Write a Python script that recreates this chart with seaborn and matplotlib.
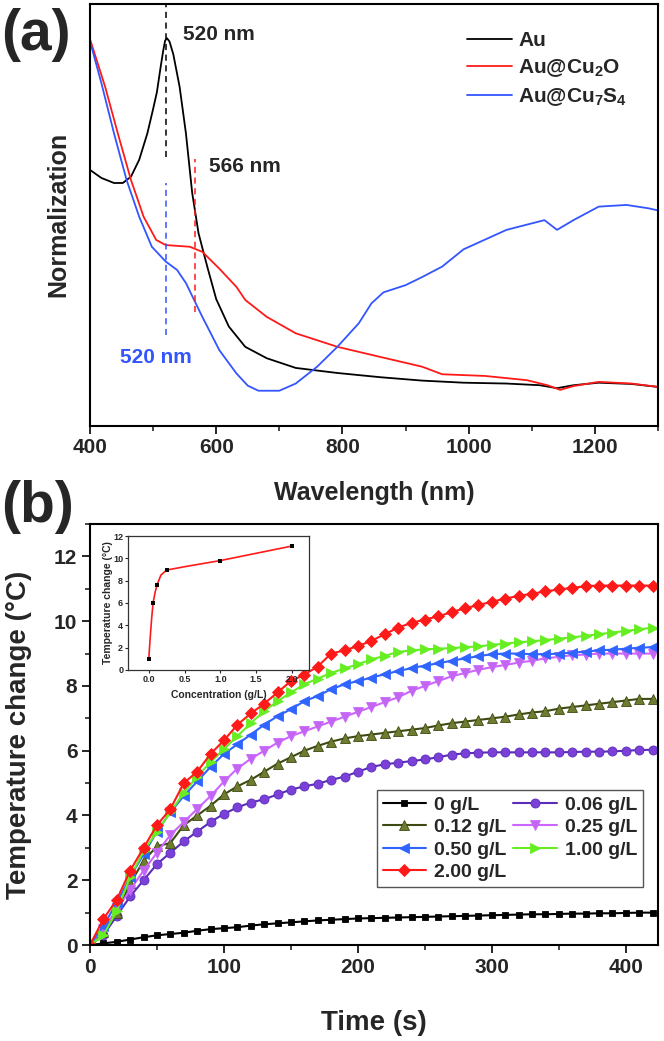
#!/usr/bin/env python3
import matplotlib

matplotlib.use("Agg")
import matplotlib.pyplot as plt
import numpy as np
import seaborn as sns
from matplotlib.ticker import FormatStrFormatter, MultipleLocator

# --------------------------------------------
# DATA
# --------------------------------------------
# (a) normalised absorption spectra, y in fraction of the axis height
AU_WL = [400, 418, 438, 452, 465, 478, 491, 500, 506, 512, 516, 519, 522, 526, 532,
         542, 552, 562, 572, 580, 586, 600, 620, 646, 680, 726, 792, 860, 926,
         992, 1060, 1113, 1140, 1166, 1206, 1258, 1300]
AU_ABS = [0.606, 0.587, 0.575, 0.575, 0.590, 0.630, 0.693, 0.750, 0.790, 0.850,
          0.888, 0.912, 0.918, 0.910, 0.880, 0.803, 0.693, 0.551, 0.456, 0.410,
          0.376, 0.300, 0.235, 0.187, 0.160, 0.137, 0.125, 0.115, 0.107, 0.102,
          0.100, 0.096, 0.089, 0.096, 0.102, 0.099, 0.092]

CU2O_WL = [400, 424, 444, 465, 485, 505, 520, 558, 578, 605, 632, 646, 680, 726,
           792, 860, 926, 958, 1026, 1092, 1125, 1145, 1166, 1206, 1258, 1300]
CU2O_ABS = [0.916, 0.803, 0.693, 0.582, 0.495, 0.440, 0.428, 0.424, 0.412, 0.372,
            0.329, 0.298, 0.258, 0.219, 0.187, 0.163, 0.140, 0.122, 0.118, 0.108,
            0.096, 0.085, 0.094, 0.104, 0.100, 0.092]

CU7S4_WL = [400, 418, 438, 458, 478, 498, 520, 538, 552, 565, 578, 605, 632, 650,
            667, 700, 726, 760, 792, 826, 846, 865, 900, 926, 958, 992, 1060,
            1120, 1140, 1166, 1206, 1250, 1285, 1300]
CU7S4_ABS = [0.911, 0.812, 0.693, 0.582, 0.495, 0.424, 0.389, 0.369, 0.338, 0.298,
             0.258, 0.179, 0.124, 0.095, 0.083, 0.083, 0.100, 0.140, 0.187, 0.243,
             0.290, 0.316, 0.333, 0.352, 0.377, 0.418, 0.464, 0.487, 0.464, 0.487,
             0.519, 0.523, 0.515, 0.510]

SPECTRA_LABELS = ["Au", r"Au@Cu$_{\mathrm{2}}$O", r"Au@Cu$_{\mathrm{7}}$S$_{\mathrm{4}}$"]

# (b) temperature change vs time, one value every 10 s
TIME = list(range(0, 430, 10))
T_0 = [0, 0.05, 0.10, 0.17, 0.24, 0.30, 0.34, 0.38, 0.44, 0.49, 0.52, 0.55, 0.60,
       0.64, 0.67, 0.70, 0.73, 0.76, 0.78, 0.80, 0.82, 0.83, 0.84, 0.85, 0.86,
       0.87, 0.88, 0.89, 0.90, 0.91, 0.92, 0.93, 0.94, 0.95, 0.95, 0.96, 0.97,
       0.97, 0.98, 0.98, 0.99, 1.00, 1.00]
T_006 = [0, 0.30, 0.90, 1.50, 2.00, 2.50, 2.85, 3.20, 3.50, 3.80, 4.05, 4.25, 4.40,
         4.50, 4.65, 4.80, 4.90, 4.98, 5.10, 5.20, 5.35, 5.50, 5.58, 5.63, 5.68,
         5.73, 5.80, 5.88, 5.92, 5.94, 5.95, 5.95, 5.95, 5.95, 5.95, 5.95, 5.96,
         5.97, 5.97, 5.98, 6.00, 6.02, 6.03]
T_012 = [0, 0.40, 1.00, 1.90, 2.60, 3.05, 3.15, 3.70, 4.00, 4.30, 4.65, 4.90, 5.10,
         5.35, 5.60, 5.80, 6.00, 6.15, 6.28, 6.38, 6.45, 6.50, 6.55, 6.60, 6.65,
         6.70, 6.78, 6.85, 6.90, 6.95, 7.00, 7.05, 7.12, 7.18, 7.22, 7.30, 7.35,
         7.40, 7.45, 7.50, 7.55, 7.60, 7.60]
T_025 = [0, 0.50, 1.10, 1.70, 2.30, 2.85, 3.40, 3.80, 4.20, 4.60, 5.05, 5.45, 5.75,
         6.00, 6.25, 6.45, 6.60, 6.75, 6.90, 7.05, 7.20, 7.35, 7.50, 7.65, 7.85,
         8.00, 8.15, 8.30, 8.40, 8.50, 8.58, 8.65, 8.72, 8.78, 8.85, 8.90, 8.95,
         8.97, 9.00, 9.00, 9.00, 9.00, 9.00]
T_050 = [0, 0.60, 1.30, 2.10, 2.80, 3.50, 4.10, 4.60, 5.05, 5.50, 5.90, 6.20, 6.50,
         6.80, 7.07, 7.28, 7.53, 7.69, 7.90, 8.05, 8.15, 8.26, 8.36, 8.46, 8.55,
         8.63, 8.70, 8.78, 8.85, 8.92, 8.98, 9.00, 9.00, 8.98, 8.98, 9.00, 9.03,
         9.06, 9.10, 9.12, 9.15, 9.18, 9.20]
T_100 = [0, 0.30, 1.05, 2.10, 2.90, 3.50, 4.10, 4.70, 5.20, 5.65, 6.05, 6.45, 6.85,
         7.22, 7.53, 7.80, 8.05, 8.23, 8.40, 8.54, 8.67, 8.82, 8.93, 9.05, 9.10,
         9.13, 9.15, 9.17, 9.20, 9.22, 9.27, 9.31, 9.35, 9.38, 9.42, 9.46, 9.50,
         9.55, 9.60, 9.65, 9.70, 9.75, 9.80]
T_200 = [0, 0.80, 1.40, 2.30, 3.00, 3.70, 4.20, 5.00, 5.35, 5.90, 6.32, 6.80, 7.15,
         7.45, 7.80, 8.15, 8.35, 8.60, 9.00, 9.10, 9.23, 9.39, 9.60, 9.80, 9.95,
         10.05, 10.15, 10.28, 10.40, 10.50, 10.60, 10.70, 10.78, 10.85, 10.92,
         10.98, 11.03, 11.08, 11.10, 11.10, 11.10, 11.10, 11.10]

CONC_LABELS = ["0 g/L", "0.06 g/L", "0.12 g/L", "0.25 g/L", "0.50 g/L", "1.00 g/L", "2.00 g/L"]

# inset: final temperature change vs concentration
INSET_CONC = [0.0, 0.06, 0.12, 0.25, 1.0, 2.0]
INSET_TEMP = [1.0, 6.0, 7.6, 9.0, 9.8, 11.1]
# smooth red fit curve as drawn in the inset
FIT_CONC = [0.0, 0.02, 0.04, 0.06, 0.09, 0.12, 0.17, 0.25, 0.5, 1.0, 2.0]
FIT_TEMP = [1.0, 2.9, 4.6, 6.0, 7.0, 7.7, 8.5, 8.95, 9.25, 9.8, 11.1]

# --------------------------------------------
# STYLE
# --------------------------------------------
sns.set_theme(style="ticks")
plt.rcParams["font.family"] = ["Liberation Sans", "DejaVu Sans"]
plt.rcParams["font.weight"] = "bold"
plt.rcParams["axes.labelweight"] = "bold"
plt.rcParams["mathtext.fontset"] = "custom"
plt.rcParams["mathtext.rm"] = "Liberation Sans:bold"
plt.rcParams["mathtext.it"] = "Liberation Sans:bold"
plt.rcParams["mathtext.bf"] = "Liberation Sans:bold"

DASH = (0, (4, 3))


def style_axes(ax, lw=1.5):
    for sp in ax.spines.values():
        sp.set_visible(True)
        sp.set_linewidth(lw)
        sp.set_color("black")
    ax.tick_params(which="major", direction="out", length=6, width=1.4,
                   labelsize=15, top=False, right=False, pad=3)
    ax.tick_params(which="minor", direction="out", length=3.5, width=1.2,
                   top=False, right=False)
    for lab in ax.get_xticklabels() + ax.get_yticklabels():
        lab.set_fontweight("bold")


fig = plt.figure(figsize=(6.64, 10.41), dpi=100)

# --------------------------------------------
# (a) SPECTRA
# --------------------------------------------
ax_a = fig.add_axes([0.1355, 0.591, 0.8555, 0.4056])
spectra = [
    (AU_WL, AU_ABS, "black"),
    (CU2O_WL, CU2O_ABS, "#ff1a1a"),
    (CU7S4_WL, CU7S4_ABS, "#3355ff"),
]
for (wl, ab, col), lab in zip(spectra, SPECTRA_LABELS):
    sns.lineplot(x=wl, y=ab, ax=ax_a, color=col, linewidth=1.3, label=lab,
                 estimator=None)

ax_a.plot([520, 520], [0.637, 1.0], color="black", lw=1.1, ls=DASH)
ax_a.plot([520, 520], [0.215, 0.575], color="#3355ff", lw=1.1, ls=DASH)
ax_a.plot([566, 566], [0.270, 0.632], color="#ff1a1a", lw=1.1, ls=DASH)

ax_a.text(548, 0.926, "520 nm", fontsize=15, fontweight="bold", va="center", ha="left")
ax_a.text(588, 0.615, "566 nm", fontsize=15, fontweight="bold", va="center", ha="left")
ax_a.text(448, 0.162, "520 nm", fontsize=15, fontweight="bold", va="center",
          ha="left", color="#3355ff")

ax_a.set_xlim(400, 1300)
ax_a.set_ylim(0, 1)
ax_a.xaxis.set_major_locator(MultipleLocator(200))
ax_a.xaxis.set_minor_locator(MultipleLocator(100))
ax_a.set_yticks([])
style_axes(ax_a)
ax_a.set_xlabel("Wavelength (nm)", fontsize=18, fontweight="bold")
ax_a.set_ylabel("Normalization", fontsize=18, fontweight="bold")
ax_a.xaxis.set_label_coords(0.5, -0.131)
ax_a.yaxis.set_label_coords(-0.034, 0.5)
ax_a.legend(loc="upper left", bbox_to_anchor=(0.664, 0.935), frameon=False,
            fontsize=15, handlelength=2.15, handletextpad=0.3, labelspacing=0.35,
            borderpad=0, borderaxespad=0)

# --------------------------------------------
# (b) HEATING CURVES
# --------------------------------------------
ax_b = fig.add_axes([0.1355, 0.0922, 0.8555, 0.4044])
series = [
    (T_0, "black", "black", "s", 5),
    (T_006, "#5a2db8", "#7a40d8", "o", 6.5),
    (T_012, "#3d4a12", "#6e7b30", "^", 7.5),
    (T_025, "#cc66ff", "#c266f2", "v", 7.5),
    (T_050, "#2f64ff", "#2f64ff", "<", 7.5),
    (T_100, "#66ee22", "#66ee22", ">", 7.5),
    (T_200, "#ff1a1a", "#ff1a1a", "D", 5.8),
]
for (vals, lcol, mcol, mk, ms), lab in zip(series, CONC_LABELS):
    sns.lineplot(x=TIME, y=vals, ax=ax_b, color=lcol, linewidth=1.5, marker=mk,
                 markersize=ms, markerfacecolor=mcol, markeredgecolor=lcol,
                 markeredgewidth=0.6, label=lab, estimator=None)

ax_b.set_xlim(0, 424)
ax_b.set_ylim(0, 13)
ax_b.xaxis.set_major_locator(MultipleLocator(100))
ax_b.xaxis.set_minor_locator(MultipleLocator(50))
ax_b.yaxis.set_major_locator(MultipleLocator(2))
ax_b.yaxis.set_minor_locator(MultipleLocator(1))
style_axes(ax_b)
ax_b.set_xlabel("Time (s)", fontsize=20, fontweight="bold")
ax_b.set_ylabel("Temperature change (\u00b0C)", fontsize=20, fontweight="bold")
ax_b.xaxis.set_label_coords(0.5, -0.154)
ax_b.yaxis.set_label_coords(-0.102, 0.5)

handles, labels = ax_b.get_legend_handles_labels()
order = [0, 2, 4, 6, 1, 3, 5]
leg = ax_b.legend([handles[i] for i in order], [labels[i] for i in order],
                  ncol=2, loc="lower right", bbox_to_anchor=(0.9736, 0.1378),
                  fontsize=14, handlelength=2.25, handletextpad=0.4,
                  columnspacing=0.35, labelspacing=0.25, borderpad=0.3,
                  borderaxespad=0, fancybox=False, framealpha=1)
leg.get_frame().set_edgecolor("#555555")
leg.get_frame().set_linewidth(1.0)

# inset
ax_in = fig.add_axes([0.1928, 0.3564, 0.2726, 0.1287])
sns.lineplot(x=FIT_CONC, y=FIT_TEMP, ax=ax_in, color="#ff1a1a", linewidth=1.2,
             estimator=None)
sns.scatterplot(x=INSET_CONC, y=INSET_TEMP, ax=ax_in, color="black", marker="s",
                s=8, zorder=3, linewidth=0)
ax_in.set_xlim(-0.29, 2.24)
ax_in.set_ylim(0, 12)
ax_in.xaxis.set_major_locator(MultipleLocator(0.5))
ax_in.yaxis.set_major_locator(MultipleLocator(2))
ax_in.xaxis.set_major_formatter(FormatStrFormatter("%.1f"))
for sp in ax_in.spines.values():
    sp.set_visible(True)
    sp.set_linewidth(0.9)
    sp.set_color("#333333")
ax_in.tick_params(direction="out", length=2, width=0.8, labelsize=6.5, pad=1.5)
for lab in ax_in.get_xticklabels() + ax_in.get_yticklabels():
    lab.set_fontweight("bold")
ax_in.set_xlabel("Concentration (g/L)", fontsize=7.5, fontweight="bold")
ax_in.set_ylabel("Temperature change (\u00b0C)", fontsize=7.5, fontweight="bold")
ax_in.xaxis.set_label_coords(0.5, -0.15)
ax_in.yaxis.set_label_coords(-0.085, 0.5)

# panel letters
fig.text(0.002, 0.9925, "(a)", fontsize=41, fontweight="bold", va="top", ha="left")
fig.text(0.002, 0.5385, "(b)", fontsize=41, fontweight="bold", va="top", ha="left")

fig.savefig("out.png", dpi=100)
plt.close(fig)
